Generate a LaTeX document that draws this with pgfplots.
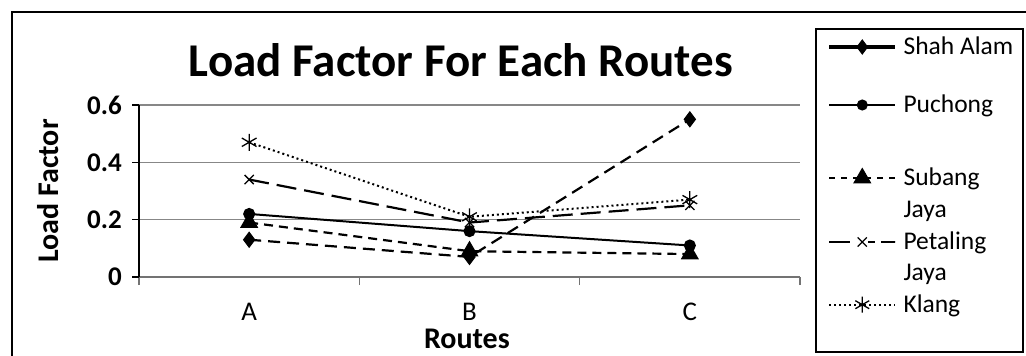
\documentclass[border=0pt]{standalone}
\usepackage{fontspec}
\setmainfont{Carlito}
\usepackage{pgfplots}
\pgfplotsset{compat=1.18}
\begin{document}
\begin{tikzpicture}[x=1bp,y=1bp]
\useasboundingbox (0,0) rectangle (1026,355);
\draw[line width=1.5bp] (12,-20) -- (12,343) -- (1050,343);
\draw[line width=1.3bp] (816,3) rectangle (1023,326);
\begin{axis}[
  at={(139bp,78bp)}, anchor=south west,
  scale only axis, width=661bp, height=172bp,
  xmin=-0.5, xmax=2.5, ymin=0, ymax=0.6,
  clip=false,
  axis x line*=bottom, axis y line*=left,
  x axis line style={black!55, line width=1.3bp},
  y axis line style={black, line width=1.3bp},
  /pgf/number format/assume math mode=true,
  ytick={0,0.2,0.4,0.6},
  yticklabels={0,0.2,0.4,0.6},
  xtick={0,1,2}, xticklabels={A,B,C},
  minor xtick={-0.5,0.5,1.5,2.5},
  tick align=outside,
  major tick length=7bp, minor tick length=8bp,
  major x tick style={draw=none},
  minor x tick style={black!55, line width=1.3bp},
  ytick style={black, line width=1.3bp},
  ymajorgrids,
  grid style={black!47, line width=1.3bp},
  yticklabel style={font=\bfseries\fontsize{27bp}{30bp}\selectfont, anchor=east, inner sep=0pt, xshift=-10bp},
  xticklabel style={font=\fontsize{27bp}{30bp}\selectfont, anchor=base, inner sep=0pt, yshift=-36bp},
  title={Load Factor For Each Routes},
  title style={font=\bfseries\fontsize{47bp}{50bp}\selectfont, at={(axis description cs:0.487,1)}, anchor=base, yshift=23bp, inner sep=0pt},
  ylabel={Load Factor},
  ylabel style={font=\bfseries\fontsize{30bp}{32bp}\selectfont, at={(axis description cs:-0.138,0.5)}, anchor=center, inner sep=0pt},
  xlabel={Routes},
  xlabel style={font=\bfseries\fontsize{30bp}{32bp}\selectfont, at={(axis description cs:0.496,0)}, anchor=base, yshift=-71bp, inner sep=0pt},
  legend image code/.code={\draw[#1, mark repeat=2, mark phase=2] plot coordinates {(0bp,0bp) (33bp,0bp) (66bp,0bp)};},
  legend cell align=left,
  legend style={draw=none, fill=none, inner sep=0pt, outer sep=0pt,
    at={(axis description cs:1.0409,1.4012)}, anchor=north west,
    nodes={inner sep=0pt, text height=18bp, text depth=},
    row sep=0pt, column sep=6bp,
    font=\fontsize{25.5bp}{27bp}\selectfont},
]
\addplot[forget plot, black, line width=2.2bp, dash pattern=on 12bp off 7bp, mark=diamond*, mark size=7.5bp, mark options={solid, line width=1bp}]
  coordinates {(0,0.13) (1,0.07) (2,0.55)};
\addplot[forget plot, black, line width=2bp, solid, mark=*, mark size=5bp, mark options={solid}]
  coordinates {(0,0.22) (1,0.16) (2,0.11)};
\addplot[forget plot, black, line width=2.2bp, dash pattern=on 9bp off 6bp, mark=triangle*, mark size=9.5bp, mark options={solid, line width=1bp}]
  coordinates {(0,0.19) (1,0.09) (2,0.08)};
\addplot[forget plot, black, line width=2.2bp, dash pattern=on 20bp off 8bp, mark=x, mark size=6.5bp, mark options={solid, line width=1.3bp}]
  coordinates {(0,0.34) (1,0.19) (2,0.25)};
\addplot[forget plot, black, line width=2bp, dash pattern=on 2bp off 3bp, mark=asterisk, mark size=8.5bp, mark options={solid, line width=1.3bp}]
  coordinates {(0,0.47) (1,0.21) (2,0.27)};

\addlegendimage{yshift=18bp, black, line width=4.5bp, solid, mark=diamond*, mark size=7bp, mark options={solid, line width=1bp}}
\addlegendentry{Shah Alam\rule[-40bp]{0pt}{0pt}}
\addlegendimage{yshift=25.5bp, black, line width=2bp, solid, mark=*, mark size=4.5bp}
\addlegendentry{Puchong\rule[-55bp]{0pt}{0pt}}
\addlegendimage{yshift=5bp, black, line width=2.2bp, dash pattern=on 6bp off 6bp, dash phase=0bp, mark=triangle*, mark size=9.5bp, mark options={solid, line width=1bp}}
\addlegendentry{Subang\rule[-14bp]{0pt}{0pt}}
\addlegendimage{empty legend}
\addlegendentry{Jaya\rule[-14bp]{0pt}{0pt}}
\addlegendimage{yshift=4.5bp, black, line width=2.2bp, dash pattern=on 21bp off 18bp on 7bp off 6bp on 14bp off 0bp, mark=x, mark size=6.5bp, mark options={solid, line width=1.3bp}}
\addlegendentry{Petaling\rule[-13bp]{0pt}{0pt}}
\addlegendimage{empty legend}
\addlegendentry{Jaya\rule[-14bp]{0pt}{0pt}}
\addlegendimage{yshift=0.5bp, black, line width=2bp, dash pattern=on 2bp off 3bp, mark=asterisk, mark size=8bp, mark options={solid, line width=1.3bp}}
\addlegendentry{Klang}
\end{axis}
\end{tikzpicture}
\end{document}
